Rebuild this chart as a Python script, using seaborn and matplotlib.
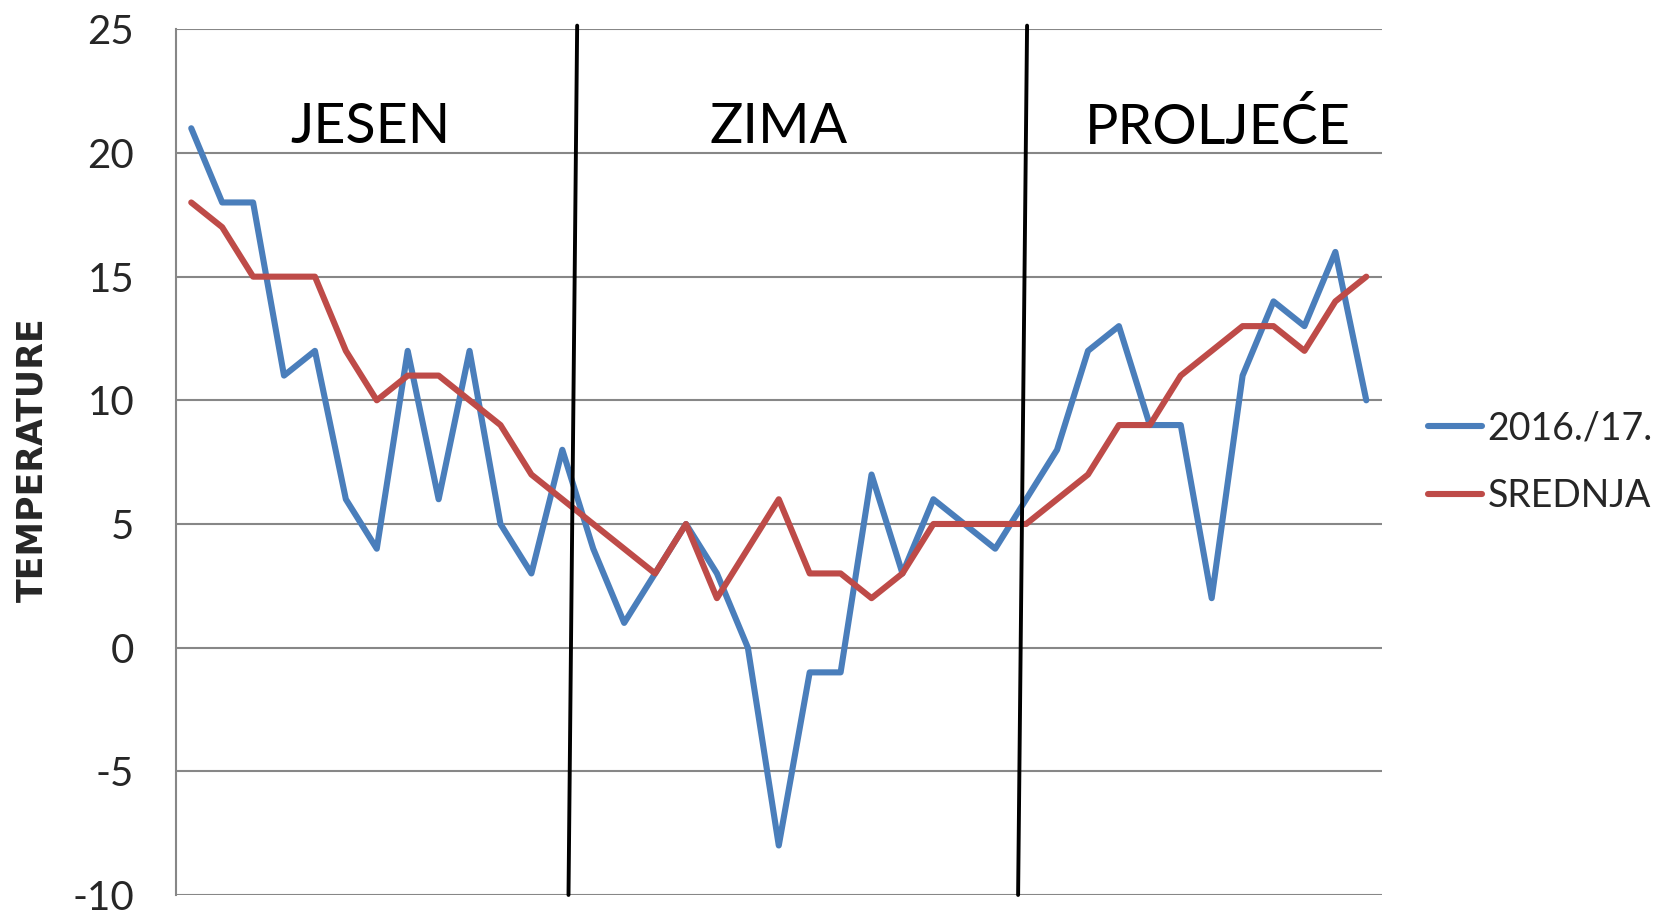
import matplotlib
matplotlib.use("Agg")
import matplotlib.pyplot as plt
import pandas as pd
import seaborn as sns

# weekly temperatures, autumn 2016 -> spring 2017
temps_2016_17 = [21, 18, 18, 11, 12, 6, 4, 12, 6, 12, 5, 3, 8, 4, 1, 3, 5, 3, 0, -8,
                 -1, -1, 7, 3, 6, 5, 4, 6, 8, 12, 13, 9, 9, 2, 11, 14, 13, 16, 10]
temps_mean = [18, 17, 15, 15, 15, 12, 10, 11, 11, 10, 9, 7, 6, 5, 4, 3, 5, 2, 4, 6,
              3, 3, 2, 3, 5, 5, 5, 5, 6, 7, 9, 9, 11, 12, 13, 13, 12, 14, 15]
series_names = ["2016./17.", "SREDNJA"]
series_colors = ["#4A7EBB", "#BE4B48"]

seasons = ["JESEN", "ZIMA", "PROLJEĆE"]
season_label_x = [5.8, 19.0, 33.2]
# hand-drawn season dividers (bottom x, top x)
divider_bottom = [12.2, 26.74]
divider_top = [12.48, 27.03]

yticks = [-10, -5, 0, 5, 10, 15, 20, 25]

sns.set_theme(style="white")
plt.rcParams["font.family"] = ["Lato", "DejaVu Sans"]

n = len(temps_2016_17)
df = pd.DataFrame({
    "week": list(range(n)) * 2,
    "temp": temps_2016_17 + temps_mean,
    "series": [series_names[0]] * n + [series_names[1]] * n,
})

fig = plt.figure(figsize=(16.71, 9.11), dpi=100)
ax = fig.add_axes([0.1052, 0.0176, 0.7217, 0.9502])

for y in yticks:
    ax.axhline(y, color="#878787", linewidth=1.5, zorder=0)

sns.lineplot(data=df, x="week", y="temp", hue="series", palette=series_colors, ax=ax)
for line in ax.lines[len(yticks):]:
    line.set_linewidth(4.4)
    line.set_zorder(3)
    line.set_solid_joinstyle("round")

for xb, xt in zip(divider_bottom, divider_top):
    ax.plot([xb, xt], [-10, 25.15], color="black", linewidth=2.8, clip_on=False, zorder=4)

for name, xs in zip(seasons, season_label_x):
    ax.text(xs, 21.05, name, fontsize=40, ha="center", va="center", color="black")

ax.set_xlim(-0.5, n - 0.5)
ax.set_ylim(-10, 25)
ax.set_xticks([])
ax.set_yticks(yticks)
ax.set_yticklabels([str(v) for v in yticks], fontsize=29)
ax.tick_params(axis="y", length=0, pad=30)
ax.set_xlabel("")
ax.set_ylabel("")
fig.text(32 / 1671, 0.495, "TEMPERATURE", fontsize=25, fontweight="bold",
         rotation=90, ha="center", va="center", family=["DejaVu Sans"])

for side in ["top", "right", "bottom"]:
    ax.spines[side].set_visible(False)
ax.spines["left"].set_color("#878787")
ax.spines["left"].set_linewidth(1.5)

leg = ax.legend(loc="center left", bbox_to_anchor=(1.01, 0.5), frameon=False,
                fontsize=27, handlelength=1.45, handletextpad=0.15, labelspacing=0.85)
for line in leg.get_lines():
    line.set_linewidth(4.4)
    line.set_solid_capstyle("round")

fig.savefig("out.png", dpi=100)
